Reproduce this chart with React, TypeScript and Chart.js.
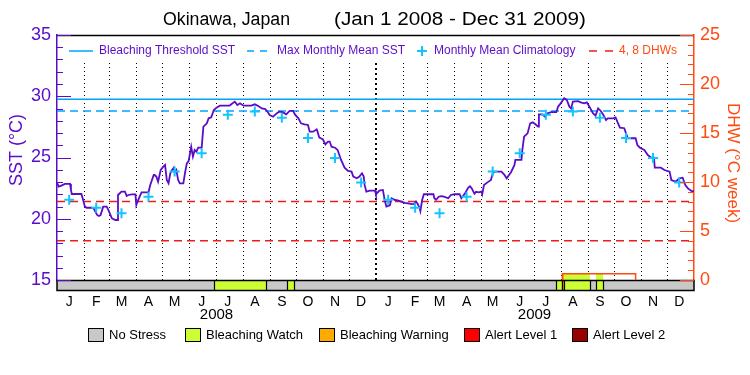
import React, { useEffect, useRef } from 'react';
import { Chart, registerables } from 'chart.js';

Chart.register(...registerables);

const FONT = "'Liberation Sans', Arial, sans-serif";
const PURPLE = '#5a0cc8';
const ORANGE_RED = '#ff4a12';
const DHW_RED = '#ee1c1c';
const CYAN_LINE = '#00a2ff';
const CYAN_CROSS = '#14c4ff';

// ---- DATA (days since Jan 1 2008) ----
const sstDays = [
  0, 2, 5, 9, 15, 16, 17, 28, 30, 32, 34, 40, 42, 46, 48, 50, 53, 57, 59, 63, 67, 69, 70, 74, 78, 80, 82, 86, 90, 91, 93, 97,
  105, 107, 111, 112, 114, 116, 119, 122, 124, 126, 128, 130, 132, 134, 135, 137, 139, 141, 145, 147, 149, 151, 154, 156,
  158, 160, 162, 166, 168, 172, 174, 177, 180, 183, 187, 198, 200, 204, 207, 210, 214, 223, 227, 231, 235, 239, 242,
  244, 248, 252, 255, 259, 263, 267, 271, 273, 277, 280, 284, 288, 290, 294, 298, 299, 301, 305, 308, 311, 313, 315, 319,
  322, 324, 326, 330, 334, 338, 340, 344, 347, 350, 352, 353, 355, 359, 365, 366, 370, 374, 376, 378, 382, 384, 388, 391,
  395, 399, 403, 407, 410, 412, 414, 416, 417, 419, 421, 432, 433, 435, 438, 441, 444, 449, 452, 456, 462, 464, 468, 472,
  474, 476, 479, 481, 484, 487, 488, 490, 494, 498, 500, 502, 510, 513, 516, 521, 525, 526, 533, 534, 536, 540, 543, 546,
  549, 552, 553, 557, 560, 563, 567, 573, 575, 578, 582, 585, 588, 590, 592, 598, 601, 605, 608, 611, 615, 618, 621, 624,
  627, 630, 632, 638, 641, 643, 646, 651, 653, 655, 664, 666, 669, 674, 678, 682, 685, 686, 693, 697, 703, 705, 710, 714,
  718, 721, 724, 728, 731,
];
const sstValues = [
  22.95, 22.62, 22.7, 22.84, 22.84, 22.35, 22.02, 22.02, 21.53, 20.99, 20.9, 20.9, 20.85, 20.31, 20.22, 20.3, 20.99, 20.99,
  20.71, 20.03, 19.9, 19.9, 21.94, 22.21, 22.21, 21.86, 21.94, 21.99, 21.99, 21.12, 21.5, 22.16,
  22.16, 22.76, 23.57, 23.57, 23.44, 23.03, 23.98, 24.25, 24.39, 23.16, 22.89, 23.71, 23.98, 24.17, 23.79, 23.98, 23.16,
  22.89, 22.89, 23.79, 24.52, 24.71, 25.88, 25.07,
  25.61, 25.48, 25.8, 25.8, 27.52, 27.79, 28.2, 28.28, 28.88, 29.07, 29.23, 29.23, 29.34, 29.56, 29.29, 29.42, 29.23, 29.23,
  29.34, 29.2, 29.01, 28.96, 28.7,
  28.47, 28.33, 28.6, 28.74, 28.7, 28.52, 28.8, 28.8, 28.52, 28.2, 27.79, 27.71, 27.66, 27.11, 27.11, 27.3, 27.11, 26.62,
  26.5, 26.07, 26.29, 26.3, 25.88, 25.8,
  25.61, 25.2, 24.8, 24.17, 23.9, 23.85, 23.44, 23.3, 23.44, 23.71, 23.44, 22.76, 22.21, 22.3, 22.3, 22.0, 22.3, 22.35,
  21.53, 20.99, 21.1, 21.67, 21.53, 21.5,
  21.4, 21.3, 21.25, 21.2, 21.22, 21.4, 21.2, 20.9, 20.63, 21.53, 22.0, 22.0, 21.67, 21.55, 21.8, 21.85, 21.8, 21.67,
  21.94, 22.0, 22.0, 21.67, 22.05, 22.54,
  22.66, 22.48, 22.05, 22.2, 22.16, 22.21, 22.0, 22.76, 22.97, 23.16, 23.71, 23.85, 23.85, 23.63, 23.3, 23.8, 24.39, 24.8,
  24.8, 25.61, 26.7, 26.97, 27.79, 27.87,
  27.71, 27.52, 28.52, 28.52, 28.33, 28.61, 28.7, 28.7, 29.15, 29.42, 29.83, 29.7, 29.15, 29.0, 29.56, 29.6, 29.5, 29.42,
  29.5, 29.15, 28.61, 28.42, 29.01, 28.8,
  28.47, 28.06, 28.2, 28.2, 28.28, 27.93, 27.44, 27.39, 26.97, 26.57, 26.57, 26.02, 25.8, 25.61, 25.2, 24.99, 24.99, 24.17,
  24.17, 23.98, 23.85, 23.16, 23.03, 23.3,
  23.35, 22.76, 22.48, 22.27, 22.21,
];

const climDays = [14, 45, 74, 105, 135, 166, 196, 227, 258, 288, 319, 349, 380, 411, 439, 470, 500, 531, 561, 592, 623, 653, 684, 714];
const climValues = [
  21.55, 20.9, 20.45, 21.8, 23.85, 25.35, 28.5, 28.75, 28.25, 26.6, 24.95, 22.95,
  21.55, 20.9, 20.45, 21.8, 23.85, 25.35, 28.5, 28.75, 28.25, 26.6, 24.95, 22.95,
];

const thresholdSST = 29.75;
const mmmSST = 28.8;
const dhwLevels = [4, 8];

const dhwDays = [0, 580, 580, 664, 664, 731];
const dhwValues = [0, 0, 0.64, 0.64, 0, 0];

const monthStartDays = [0, 31, 60, 91, 121, 152, 182, 213, 244, 274, 305, 335, 366, 397, 425, 456, 486, 517, 547, 578, 609, 639, 670, 700, 731];
const monthLabelDays = [14, 45, 74, 105, 135, 166, 196, 227, 258, 288, 319, 349, 380, 411, 439, 470, 500, 531, 561, 592, 623, 653, 684, 714];
const monthLetters = ['J', 'F', 'M', 'A', 'M', 'J', 'J', 'A', 'S', 'O', 'N', 'D'];
const yearLabels = ['2008', '2009'];
const yearLabelDays = [183, 548];

const stressStart = [180, 264, 573, 580, 582, 618];
const stressEnd = [240, 272, 580, 582, 612, 626];
const stressLevel = [1, 1, 1, 2, 1, 1];
const stressNames = ['No Stress', 'Bleaching Watch', 'Bleaching Warning', 'Alert Level 1', 'Alert Level 2'];
const stressColors = ['#c8c8c8', '#ccff33', '#ffaa00', '#ff0000', '#990000'];

const titleLeft = 'Okinawa, Japan';
const titleRight = '(Jan 1 2008 - Dec 31 2009)';

function dhwAt(day: number): number {
  let v = 0;
  for (let i = 0; i < dhwDays.length; i++) if (dhwDays[i] <= day) v = dhwValues[i];
  return v;
}

function fitText(ctx: CanvasRenderingContext2D, text: string, x: number, y: number, width: number) {
  const w = ctx.measureText(text).width;
  ctx.save();
  ctx.translate(x, y);
  ctx.scale(width / w, 1);
  ctx.textAlign = 'left';
  ctx.fillText(text, 0, 0);
  ctx.restore();
}

const decorPlugin = {
  id: 'decor',
  beforeDatasetsDraw(chart: any) {
    const { ctx, chartArea: a } = chart;
    const xs = chart.scales.x;
    const y2 = chart.scales.y2;
    ctx.save();
    // dotted month separators
    ctx.strokeStyle = '#000';
    for (let i = 1; i < monthStartDays.length - 1; i++) {
      const px = Math.round(xs.getPixelForValue(monthStartDays[i]));
      const yearLine = monthStartDays[i] === 366;
      ctx.lineWidth = yearLine ? 2 : 1;
      ctx.setLineDash(yearLine ? [2, 3] : [1, 3]);
      ctx.beginPath();
      ctx.moveTo(yearLine ? px : px + 0.5, 63);
      ctx.lineTo(yearLine ? px : px + 0.5, a.bottom);
      ctx.stroke();
    }
    ctx.setLineDash([]);
    // stress bar
    const barTop = a.bottom;
    const barH = 10;
    ctx.fillStyle = stressColors[0];
    ctx.fillRect(a.left, barTop, a.right - a.left, barH);
    for (let i = 0; i < stressStart.length; i++) {
      const x0 = Math.round(xs.getPixelForValue(stressStart[i]));
      const x1 = Math.round(xs.getPixelForValue(stressEnd[i]));
      const top = Math.min(barTop, y2.getPixelForValue(dhwAt((stressStart[i] + stressEnd[i]) / 2)));
      ctx.fillStyle = stressColors[stressLevel[i]];
      ctx.fillRect(x0, top, x1 - x0, barTop + barH - top);
      ctx.strokeStyle = '#000';
      ctx.lineWidth = 1.2;
      ctx.beginPath();
      ctx.moveTo(x0 + 0.5, barTop);
      ctx.lineTo(x0 + 0.5, barTop + barH);
      ctx.moveTo(x1 + 0.5, barTop);
      ctx.lineTo(x1 + 0.5, barTop + barH);
      ctx.stroke();
    }
    ctx.strokeStyle = '#000';
    ctx.lineWidth = 1.5;
    ctx.strokeRect(a.left, barTop + 0.5, a.right - a.left, barH);
    ctx.restore();
  },
  afterDraw(chart: any) {
    const { ctx, chartArea: a } = chart;
    const xs = chart.scales.x;
    const ys = chart.scales.y;
    const y2 = chart.scales.y2;
    ctx.save();
    // top frame
    ctx.strokeStyle = '#000';
    ctx.lineWidth = 1.5;
    ctx.beginPath();
    ctx.moveTo(a.left, a.top + 0.5);
    ctx.lineTo(a.right, a.top + 0.5);
    ctx.stroke();
    // inward ticks
    ctx.lineWidth = 1;
    ctx.strokeStyle = PURPLE;
    for (let v = 15; v <= 35; v++) {
      const py = Math.round(ys.getPixelForValue(v)) + 0.5;
      const len = v % 5 === 0 ? 14 : 6;
      ctx.beginPath();
      ctx.moveTo(a.left, py);
      ctx.lineTo(a.left + len, py);
      ctx.stroke();
    }
    ctx.strokeStyle = ORANGE_RED;
    for (let v = 0; v <= 25; v++) {
      const py = Math.round(y2.getPixelForValue(v)) + 0.5;
      const len = v % 5 === 0 ? 14 : 6;
      ctx.beginPath();
      ctx.moveTo(a.right - len, py);
      ctx.lineTo(a.right, py);
      ctx.stroke();
    }
    // title
    ctx.fillStyle = '#000';
    ctx.textBaseline = 'middle';
    ctx.font = `18px ${FONT}`;
    fitText(ctx, titleLeft, 163, 20, 127);
    fitText(ctx, titleRight, 334, 20, 252);
    // year labels
    ctx.font = `15px ${FONT}`;
    ctx.textAlign = 'center';
    for (let i = 0; i < yearLabels.length; i++) {
      ctx.fillText(yearLabels[i], xs.getPixelForValue(yearLabelDays[i]), 315);
    }
    // inner legend
    const ly = 51;
    ctx.font = `12px ${FONT}`;
    ctx.textAlign = 'left';
    ctx.lineWidth = 1.5;
    ctx.strokeStyle = CYAN_LINE;
    ctx.beginPath();
    ctx.moveTo(69, ly); ctx.lineTo(93, ly);
    ctx.moveTo(247, ly); ctx.lineTo(254, ly);
    ctx.moveTo(260, ly); ctx.lineTo(267, ly);
    ctx.stroke();
    ctx.strokeStyle = CYAN_CROSS;
    ctx.lineWidth = 2;
    ctx.beginPath();
    ctx.moveTo(417, ly); ctx.lineTo(427, ly);
    ctx.moveTo(422, ly - 5); ctx.lineTo(422, ly + 5);
    ctx.stroke();
    ctx.strokeStyle = DHW_RED;
    ctx.lineWidth = 1.5;
    ctx.beginPath();
    ctx.moveTo(589, ly); ctx.lineTo(597, ly);
    ctx.moveTo(605, ly); ctx.lineTo(613, ly);
    ctx.stroke();
    ctx.fillStyle = PURPLE;
    ctx.fillText('Bleaching Threshold SST', 99, ly);
    ctx.fillText('Max Monthly Mean SST', 277, ly);
    ctx.fillText('Monthly Mean Climatology', 434, ly);
    ctx.fillStyle = ORANGE_RED;
    ctx.fillText('4, 8 DHWs', 619, ly);
    // axis titles
    ctx.font = `18px ${FONT}`;
    ctx.textAlign = 'center';
    ctx.fillStyle = PURPLE;
    ctx.save();
    ctx.translate(17, 150);
    ctx.rotate(-Math.PI / 2);
    ctx.fillText('SST (°C)', 0, 0);
    ctx.restore();
    ctx.font = `17px ${FONT}`;
    ctx.fillStyle = ORANGE_RED;
    ctx.save();
    ctx.translate(733, 163);
    ctx.rotate(Math.PI / 2);
    ctx.fillText('DHW (°C week)', 0, 0);
    ctx.restore();
    // stress legend
    const boxX = [88, 185, 319, 464, 572];
    ctx.font = `13px ${FONT}`;
    ctx.textAlign = 'left';
    for (let i = 0; i < stressNames.length; i++) {
      ctx.fillStyle = stressColors[i];
      ctx.fillRect(boxX[i], 328, 15, 13);
      ctx.strokeStyle = '#000';
      ctx.lineWidth = 1;
      ctx.strokeRect(boxX[i] + 0.5, 328.5, 15, 13);
      ctx.fillStyle = '#000';
      ctx.fillText(stressNames[i], boxX[i] + 21, 335);
    }
    ctx.restore();
  },
};

export default function App() {
  const ref = useRef<HTMLCanvasElement>(null);
  useEffect(() => {
    if (!ref.current) return;
    const sstData = sstDays.map((d, i) => ({ x: d, y: sstValues[i] }));
    const climData = climDays.map((d, i) => ({ x: d, y: climValues[i] }));
    const dhwData = dhwDays.map((d, i) => ({ x: d, y: dhwValues[i] }));
    const span = [monthStartDays[0], monthStartDays[monthStartDays.length - 1]];
    const chart = new Chart(ref.current, {
      type: 'line',
      data: {
        datasets: [
          {
            data: climData, yAxisID: 'y', showLine: false, pointStyle: 'cross', pointRadius: 5,
            borderColor: CYAN_CROSS, borderWidth: 2, backgroundColor: CYAN_CROSS,
          },
          {
            data: sstData, yAxisID: 'y', borderColor: PURPLE, borderWidth: 1.8, pointRadius: 0, tension: 0,
          },
          {
            data: span.map((d) => ({ x: d, y: thresholdSST })), yAxisID: 'y', borderColor: CYAN_LINE,
            borderWidth: 1.5, pointRadius: 0,
          },
          {
            data: span.map((d) => ({ x: d, y: mmmSST })), yAxisID: 'y', borderColor: CYAN_LINE,
            borderWidth: 1.5, pointRadius: 0, borderDash: [8, 5],
          },
          ...dhwLevels.map((lv) => ({
            data: span.map((d) => ({ x: d, y: lv })), yAxisID: 'y2', borderColor: DHW_RED,
            borderWidth: 1.5, pointRadius: 0, borderDash: [8, 5],
          })),
          {
            data: dhwData, yAxisID: 'y2', borderColor: ORANGE_RED, borderWidth: 1.5, pointRadius: 0,
            segment: {
              borderColor: (c: any) => (c.p0.parsed.y === 0 && c.p1.parsed.y === 0 ? 'rgba(0,0,0,0)' : ORANGE_RED),
            },
          },
        ] as any,
      },
      options: {
        animation: false,
        responsive: false,
        devicePixelRatio: 1,
        maintainAspectRatio: false,
        layout: { padding: { top: 35, left: 0, right: 0, bottom: 0 } },
        plugins: { legend: { display: false }, title: { display: false }, tooltip: { enabled: false } },
        scales: {
          x: {
            type: 'linear', min: span[0], max: span[1],
            afterFit: (s: any) => { s.height = 95; },
            afterBuildTicks: (s: any) => { s.ticks = monthLabelDays.map((v) => ({ value: v })); },
            ticks: {
              autoSkip: false, maxRotation: 0, padding: 14, color: '#000',
              font: { family: FONT, size: 14 },
              callback: (_v: any, i: number) => monthLetters[i % 12],
            },
            grid: { display: false, drawTicks: false },
            border: { display: false },
          },
          y: {
            type: 'linear', position: 'left', min: 15, max: 35,
            afterFit: (s: any) => { s.width = 57; },
            ticks: { stepSize: 5, color: PURPLE, padding: 6, font: { family: FONT, size: 18 } },
            grid: { display: false, drawTicks: false },
            border: { display: true, color: PURPLE, width: 1.5 },
          },
          y2: {
            type: 'linear', position: 'right', min: 0, max: 25,
            afterFit: (s: any) => { s.width = 56; },
            ticks: { stepSize: 5, color: ORANGE_RED, padding: 6, font: { family: FONT, size: 18 } },
            grid: { display: false, drawTicks: false },
            border: { display: true, color: ORANGE_RED, width: 1.5 },
          },
        },
      } as any,
      plugins: [decorPlugin],
    });
    return () => chart.destroy();
  }, []);
  return (
    <div style={{ position: 'fixed', left: 0, top: 0, width: 750, height: 375, background: '#fff' }}>
      <canvas ref={ref} width={750} height={375} style={{ display: 'block', width: 750, height: 375 }} />
    </div>
  );
}
